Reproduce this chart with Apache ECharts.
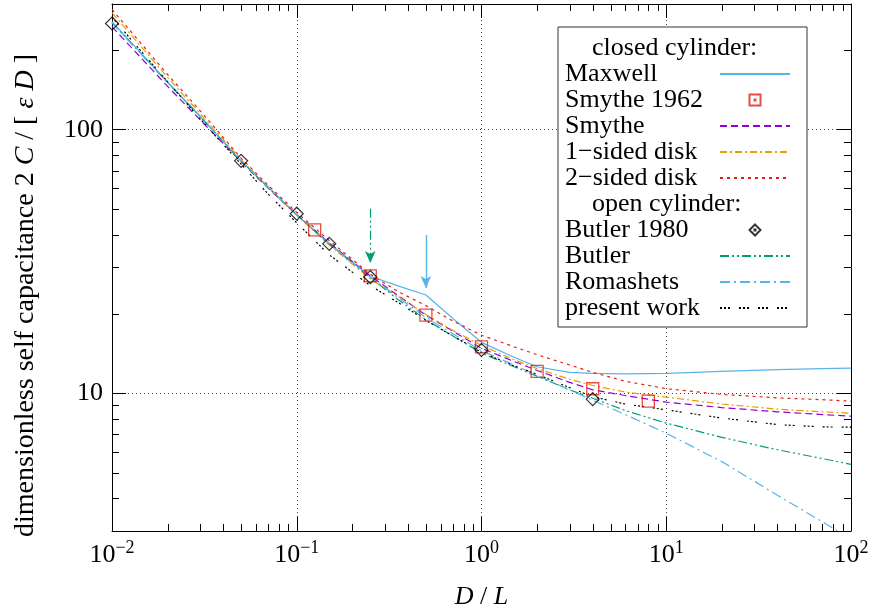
<!DOCTYPE html>
<html>
<head>
<meta charset="utf-8">
<script src="https://cdn.jsdelivr.net/npm/echarts@6/dist/echarts.min.js"></script>
<style>
html, body { margin: 0; padding: 0; background: #fff; }
#chart { width: 873px; height: 611px; }
</style>
</head>
<body>
<div id="chart"></div>
<script>
var ratioDL = [0.01, 0.02, 0.03, 0.05, 0.07, 0.1, 0.15, 0.25, 0.35, 0.5, 0.7, 1, 1.5, 2, 3, 4, 6, 10, 20, 40, 70, 100];

// closed cylinder
var maxwell   = [257, 152, 112.5, 76, 60.5, 47.5, 37, 27.8, 25.6, 23.6, 19.2, 15.6, 13.7, 12.6, 12.0, 11.9, 11.85, 11.9, 12.1, 12.3, 12.4, 12.45];
var smythe    = [246, 146, 109, 75.5, 60, 47.6, 37.2, 27.9, 23.6, 19.8, 17.2, 14.8, 13.2, 12.2, 11.0, 10.3, 9.8, 9.25, 8.82, 8.5, 8.3, 8.18];
var oneSided  = [278, 158, 115, 77, 60.5, 47.3, 36.5, 27.2, 23.4, 19.9, 17.3, 15.2, 13.4, 12.4, 11.3, 10.7, 10.1, 9.66, 9.1, 8.7, 8.5, 8.4];
var twoSided  = [286, 162, 118, 78, 61.5, 48.5, 38, 28.3, 24.4, 21.5, 18.8, 16.6, 15.0, 14.0, 12.8, 12.0, 11.1, 10.4, 9.9, 9.6, 9.45, 9.33];
var smythe1962X = [0.125, 0.25, 0.5, 1, 2, 4, 8];
var smythe1962Y = [41.7, 27.9, 19.8, 15.0, 12.1, 10.4, 9.33];

// open cylinder
var butler1980X = [0.01, 0.05, 0.1, 0.15, 0.25, 1, 4];
var butler1980Y = [253, 76.2, 48, 36.9, 27.6, 14.6, 9.5];
var butler      = [255, 151, 112, 76, 60.5, 47.5, 36.8, 27.5, 22.8, 19.0, 16.5, 14.2, 12.6, 11.6, 10.3, 9.57, 8.6, 7.7, 6.8, 6.1, 5.65, 5.37];
var romashets   = [255, 151, 112, 76, 60.5, 47.5, 37, 27.6, 23.2, 19.4, 16.8, 14.5, 12.8, 11.7, 10.3, 9.4, 8.3, 7.05, 5.5, 4.1, 3.25, 2.8];
var presentWork = [267, 152, 110, 74, 57, 44.3, 33.5, 25.6, 22.2, 18.9, 16.5, 14.3, 12.7, 11.8, 10.5, 9.7, 9.1, 8.65, 8.05, 7.6, 7.45, 7.43];

// arrows marking the kinks
var greenArrow = [[0.25, 50.1], [0.25, 31.2]];
var blueArrow  = [[0.5, 39.9], [0.5, 25.1]];

// axes
var xMin = 0.01, xMax = 100, yMin = 3, yMax = 300;
var xDecades = [0.01, 0.1, 1, 10];
var yDecades = [1, 10, 100];
var minorSteps = [2, 3, 4, 5, 6, 7, 8, 9];

var serif = '"Liberation Serif", "DejaVu Serif", serif';
var headers = ['closed cylinder:', 'open cylinder:'];

// key samples for the point series: a small symbol centred in a 70 px wide slot
var keySquare  = 'path://M0,5.5L0.01,5.5M29.5,0h11v11h-11zM34.5,5h1v1h-1zM69.99,5.5L70,5.5';
var keyDiamond = 'path://M0,5.5L0.01,5.5M35,0L40.5,5.5L35,11L29.5,5.5zM34.5,5h1v1h-1zM69.99,5.5L70,5.5';

function pairs(xs, ys) {
  return xs.map(function (x, i) { return [x, ys[i]]; });
}

function curve(name, ys, color, dash, extra) {
  var s = {
    name: name,
    type: 'line',
    data: pairs(ratioDL, ys),
    symbol: 'none',
    smooth: false,
    clip: true,
    lineStyle: { color: color, width: 1.2, type: dash },
    itemStyle: { color: color },
    z: 3
  };
  if (extra) s.markLine = extra;
  return s;
}

function arrow(pts, color, dash, width) {
  return {
    silent: true,
    symbol: ['none', 'arrow'],
    symbolSize: [8, 12],
    label: { show: false },
    lineStyle: { color: color, type: dash, width: width },
    data: [[{ coord: pts[0] }, { coord: pts[1] }]]
  };
}

// minor ticks at 2..9 of each decade, mirrored on all four sides
var minorData = [];
xDecades.forEach(function (d) {
  minorSteps.forEach(function (k) {
    var v = +(k * d).toPrecision(3);
    if (v > xMin && v < xMax) minorData.push([v, yMin, 0]);
  });
});
yDecades.forEach(function (d) {
  minorSteps.forEach(function (k) {
    var v = +(k * d).toPrecision(3);
    if (v > yMin && v < yMax) minorData.push([xMin, v, 1]);
  });
});

function renderMinor(params, api) {
  var len = 7;
  var st = { stroke: '#000', lineWidth: 1 };
  if (api.value(2) === 0) {
    var b = api.coord([api.value(0), yMin]);
    var t = api.coord([api.value(0), yMax]);
    var x = Math.round(b[0]) + 0.5;
    return { type: 'group', children: [
      { type: 'line', shape: { x1: x, y1: b[1], x2: x, y2: b[1] - len }, style: st },
      { type: 'line', shape: { x1: x, y1: t[1], x2: x, y2: t[1] + len }, style: st }
    ] };
  }
  var l = api.coord([xMin, api.value(1)]);
  var r = api.coord([xMax, api.value(1)]);
  var y = Math.round(l[1]) + 0.5;
  return { type: 'group', children: [
    { type: 'line', shape: { x1: l[0], y1: y, x2: l[0] + len, y2: y }, style: st },
    { type: 'line', shape: { x1: r[0], y1: y, x2: r[0] - len, y2: y }, style: st }
  ] };
}

var chart = echarts.init(document.getElementById('chart'), null, { renderer: 'canvas' });

var axisLine = { show: true, onZero: false, lineStyle: { color: '#000', width: 1 } };
var majorTick = { show: true, inside: true, length: 14, lineStyle: { color: '#000', width: 1 } };
var gridLine = { show: true, lineStyle: { color: '#444', width: 1, type: [1, 3] } };

// legend entries: line samples hide the marker dot, point samples use the slot paths
var hideDot = { opacity: 0 };
function lineEntry(name) { return { name: name, itemStyle: hideDot }; }

var option = {
  backgroundColor: '#fff',
  animation: false,
  grid: { left: 112, right: 22, top: 4, bottom: 80, containLabel: false, outerBoundsMode: 'none' },
  xAxis: [{
    type: 'log', logBase: 10, min: xMin, max: xMax,
    axisLine: axisLine, axisTick: majorTick, splitLine: gridLine,
    minorTick: { show: false }, minorSplitLine: { show: false },
    axisLabel: {
      margin: 8, color: '#000',
      formatter: function (v) {
        var e = Math.round(Math.log10(v));
        return '{b|10}{s|' + (e < 0 ? '\u2212' + (-e) : e) + '}';
      },
      rich: {
        b: { fontFamily: serif, fontSize: 26, lineHeight: 32, color: '#000' },
        s: { fontFamily: serif, fontSize: 18, lineHeight: 18, color: '#000', verticalAlign: 'top' }
      }
    },
    name: '{i|D}{n| / }{i|L}', nameLocation: 'middle', nameGap: 53,
    nameTextStyle: {
      rich: {
        i: { fontFamily: serif, fontSize: 26, fontStyle: 'italic', color: '#000' },
        n: { fontFamily: serif, fontSize: 26, color: '#000' }
      }
    }
  }, {
    type: 'log', logBase: 10, min: xMin, max: xMax, position: 'top',
    axisLine: axisLine, axisTick: majorTick, axisLabel: { show: false }, splitLine: { show: false }
  }],
  yAxis: [{
    type: 'log', logBase: 10, min: yMin, max: yMax,
    axisLine: axisLine, axisTick: majorTick, splitLine: gridLine,
    minorTick: { show: false }, minorSplitLine: { show: false },
    axisLabel: {
      margin: 9, color: '#000', fontFamily: serif, fontSize: 26,
      showMinLabel: false, showMaxLabel: false,
      formatter: function (v) { return String(Math.round(v)); }
    },
    name: '{n|dimensionless self capacitance 2 }{i|C}{n| / [ }{i|\u03b5 D}{n| ]}',
    nameLocation: 'middle', nameGap: 72,
    nameTextStyle: {
      padding: [0, 56, 0, 0],
      rich: {
        i: { fontFamily: serif, fontSize: 28, fontStyle: 'italic', color: '#000' },
        n: { fontFamily: serif, fontSize: 28, color: '#000' }
      }
    }
  }, {
    type: 'log', logBase: 10, min: yMin, max: yMax, position: 'right',
    axisLine: axisLine, axisTick: majorTick, axisLabel: { show: false }, splitLine: { show: false }
  }],
  legend: {
    orient: 'vertical', left: 558, top: 27,
    padding: [8, 16, 6, 7], itemGap: 0, itemWidth: 70, itemHeight: 11,
    align: 'right', selectedMode: false,
    backgroundColor: '#fff', borderColor: '#333', borderWidth: 1, borderRadius: 0,
    data: [
      { name: 'closed cylinder:', icon: 'none' },
      lineEntry('Maxwell'),
      { name: 'Smythe 1962', icon: keySquare },
      lineEntry('Smythe'), lineEntry('1\u2212sided disk'), lineEntry('2\u2212sided disk'),
      { name: 'open cylinder:', icon: 'none' },
      { name: 'Butler 1980', icon: keyDiamond },
      lineEntry('Butler'), lineEntry('Romashets'), lineEntry('present work')
    ],
    formatter: function (name) {
      return headers.indexOf(name) >= 0 ? '{h|' + name + '}' : '{t|' + name + '}';
    },
    textStyle: {
      fontFamily: serif, fontSize: 26, color: '#000',
      rich: {
        t: { fontFamily: serif, fontSize: 26, lineHeight: 27, width: 150, align: 'left', color: '#000' },
        h: { fontFamily: serif, fontSize: 26, lineHeight: 27, width: 123, align: 'left', padding: [0, 0, 0, 27], color: '#000' }
      }
    }
  },
  series: [
    { name: 'closed cylinder:', type: 'line', data: [], symbol: 'none' },
    curve('Maxwell', maxwell, '#56b4e9', 'solid', arrow(blueArrow, '#56b4e9', 'solid', 1.4)),
    {
      name: 'Smythe 1962', type: 'scatter', data: pairs(smythe1962X, smythe1962Y),
      symbol: 'rect', symbolSize: 12, clip: false, z: 5,
      itemStyle: { color: 'rgba(255,255,255,0)', borderColor: '#e51e10', borderWidth: 1.3 }
    },
    curve('Smythe', smythe, '#9400d3', [7, 4]),
    curve('1\u2212sided disk', oneSided, '#e69f00', [7, 3, 2, 3]),
    curve('2\u2212sided disk', twoSided, '#e51e10', [3, 4]),
    { name: 'open cylinder:', type: 'line', data: [], symbol: 'none' },
    {
      name: 'Butler 1980', type: 'scatter', data: pairs(butler1980X, butler1980Y),
      symbol: 'diamond', symbolSize: 13, clip: false, z: 6,
      itemStyle: { color: 'rgba(255,255,255,0)', borderColor: '#000', borderWidth: 1.2 }
    },
    curve('Butler', butler, '#009e73', [9, 3, 2, 3, 2, 3], arrow(greenArrow, '#009e73', [9, 3, 2, 3, 2, 3], 1.2)),
    curve('Romashets', romashets, '#56b4e9', [10, 4, 2, 4]),
    curve('present work', presentWork, '#000', [2, 2, 2, 2, 2, 9]),
    {
      name: 'minor ticks', type: 'custom', data: minorData, renderItem: renderMinor,
      encode: { x: 0, y: 1 }, clip: false, silent: true, z: 10
    }
  ]
};

chart.setOption(option);
</script>
</body>
</html>
